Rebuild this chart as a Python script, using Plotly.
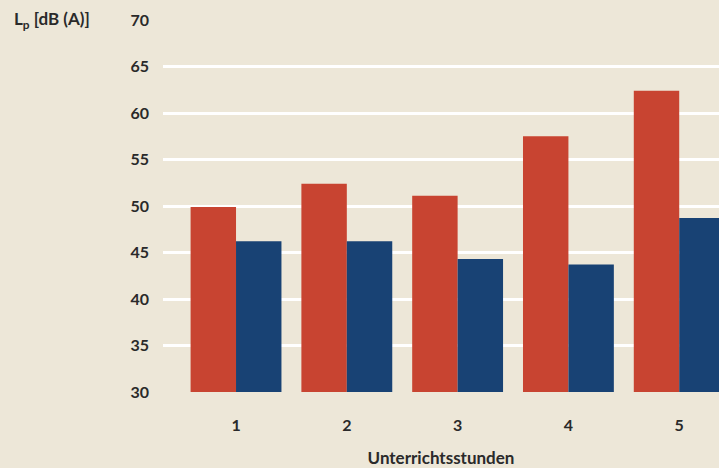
import plotly.graph_objects as go

categories = [1, 2, 3, 4, 5]
tick_labels = ["1", "2", "3", "4", "5"]
red_values = [49.9, 52.4, 51.1, 57.5, 62.4]
blue_values = [46.2, 46.2, 44.3, 43.7, 48.7]
y_ticks = [30, 35, 40, 45, 50, 55, 60, 65, 70]

BG = "#ede7d8"
FONT = "Lato"
TXT = "#2a2a2a"

fig = go.Figure()
fig.add_trace(go.Bar(x=categories, y=red_values, marker=dict(color="#c84431", line=dict(width=0)), name="A"))
fig.add_trace(go.Bar(x=categories, y=blue_values, marker=dict(color="#184274", line=dict(width=0)), name="B"))

fig.update_layout(
    width=719, height=468,
    margin=dict(l=163, r=0, t=20, b=76),
    paper_bgcolor=BG, plot_bgcolor=BG,
    barmode="group", bargap=0.18, bargroupgap=0,
    showlegend=False,
    font=dict(family=FONT, color=TXT, size=16),
    xaxis=dict(
        range=[0.341, 5.359], tickvals=categories, ticktext=tick_labels,
        showgrid=False, zeroline=False, showline=False,
        ticks="", ticklabelstandoff=22,
        tickfont=dict(family=FONT, size=16, color=TXT, weight="bold"),
        title=dict(text="<b>Unterrichtsstunden</b>", font=dict(family=FONT, size=17, color=TXT), standoff=20),
    ),
    yaxis=dict(
        range=[30, 70], tickvals=y_ticks,
        showgrid=True, gridcolor="white", gridwidth=2.5,
        zeroline=False, showline=False, ticks="", ticklabelstandoff=13,
        tickfont=dict(family=FONT, size=16, color=TXT, weight="bold"),
    ),
    annotations=[dict(
        text="<b>L<sub>p</sub> [dB (A)]</b>", xref="paper", yref="paper",
        x=-0.2716, y=1.0, xanchor="left", yanchor="middle", showarrow=False,
        font=dict(family=FONT, size=17, color=TXT),
    )],
)

fig.write_html(
    "out.html",
    config={"displayModeBar": False},
    post_script="document.body.style.margin='0';document.body.style.padding='0';document.body.style.background='" + BG + "';",
)
